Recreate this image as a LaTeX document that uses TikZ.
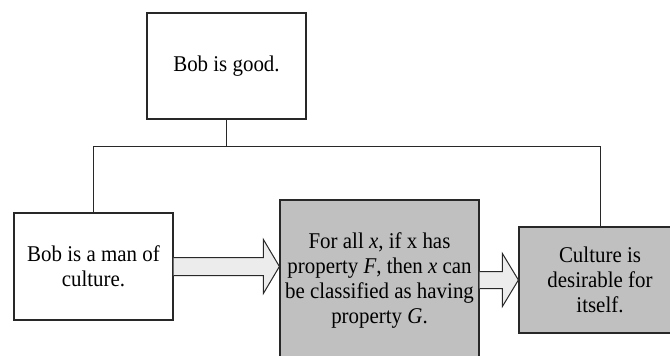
\documentclass[tikz,border=0pt]{standalone}
\usepackage{fontspec}
\setmainfont[FakeStretch=0.93]{Liberation Serif}
\usepackage{tikz}
\usetikzlibrary{positioning, calc}
\definecolor{boxline}{RGB}{40,40,40}
\definecolor{boxgray}{RGB}{192,192,192}
\definecolor{arrowgray}{RGB}{236,236,236}

\begin{document}
\begin{tikzpicture}[
    x=1pt, y=-1pt,
    claim/.style={draw=boxline, line width=1.2pt, fill=white, align=center, inner sep=0pt,
        font=\fontsize{22.5}{25}\selectfont},
    shaded/.style={claim, fill=boxgray},
    link/.style={draw=boxline, line width=1pt},
    infer/.style={draw=boxline, line width=1pt, fill=arrowgray, line join=miter}
]
    \useasboundingbox (0,0) rectangle (670,356);
    \clip (0,0) rectangle (670,355.5);

    % Claims
    \node[claim, minimum width=159pt, minimum height=106pt] (good) at (226.5,66) {Bob is good.};
    \node[claim, minimum width=159pt, minimum height=107pt] (man) at (93.5,266.5) {Bob is a man of\\culture.};
    \node[shaded, minimum width=199pt, minimum height=162pt] (rule) at (379.5,281)
        {For all \emph{x}, if x has\\property \emph{F}, then \emph{x} can\\be classified as having\\property \emph{G}.};
    \node[shaded, minimum width=162pt, minimum height=106pt] (desire) at (600,280)
        {Culture is\\desirable for\\itself.};

    % Tree lines
    \coordinate (fork) at ($(good.south)+(0,27)$);
    \draw[link] (good.south) -- (fork);
    \draw[link] (man.north) |- (fork) -| (desire.north);

    % Inference arrows
    \coordinate (a1) at (rule.west |- man.east);
    \draw[infer] ($(man.east)+(0,-9)$) -- ($(a1)+(-16,-9)$) -- ($(a1)+(-16,-27)$) -- (a1)
        -- ($(a1)+(-16,27)$) -- ($(a1)+(-16,9)$) -- ($(man.east)+(0,9)$);
    \coordinate (a2) at (desire.west);
    \coordinate (a2s) at (rule.east |- desire.west);
    \draw[infer] ($(a2s)+(0,-8.5)$) -- ($(a2)+(-16,-8.5)$) -- ($(a2)+(-16,-26.5)$) -- (a2)
        -- ($(a2)+(-16,26.5)$) -- ($(a2)+(-16,8.5)$) -- ($(a2s)+(0,8.5)$);
\end{tikzpicture}
\end{document}
